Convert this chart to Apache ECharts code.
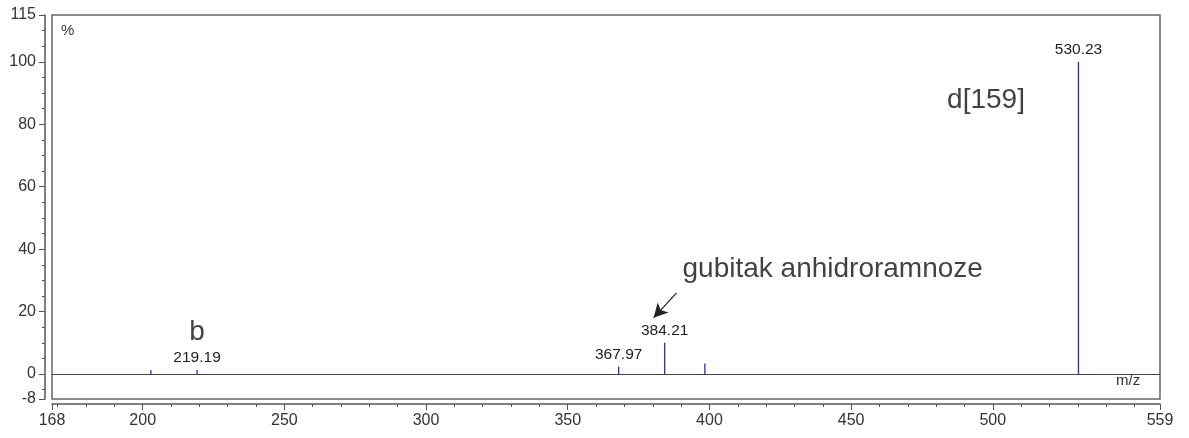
<!DOCTYPE html>
<html>
<head>
<meta charset="utf-8">
<script src="https://cdn.jsdelivr.net/npm/echarts@6/dist/echarts.min.js"></script>
<style>
html,body{margin:0;padding:0;background:#fff;}
#chart{width:1189px;height:438px;}
</style>
</head>
<body>
<div id="chart"></div>
<script>
// ---- data ----
const mz = [202.9, 219.19, 367.97, 384.21, 398.4, 530.23];
const intensity = [1.2, 1.3, 2.3, 10.0, 3.4, 100];
const peakLabels = ['', '219.19', '367.97', '384.21', '', '530.23'];

const xTickLabels = [168, 200, 250, 300, 350, 400, 450, 500, 559];
const xMinorTicks = [170,180,190,210,220,230,240,260,270,280,290,310,320,330,340,360,370,380,390,410,420,430,440,460,470,480,490,510,520,530,540,550];
const yTickLabels = [-8, 0, 20, 40, 60, 80, 100, 115];
const yMinorTicks = [-5,5,10,15,25,30,35,45,50,55,65,70,75,85,90,95,105,110];

const annTexts = ['b', 'd[159]', 'gubitak anhidroramnoze'];
const annX = [219.2, 497.6, 443.5];
const annY = [13.5, 87.7, 33.7];

const arrowFrom = [388.4, 26.0];
const arrowTo = [380.3, 18.0];

// ---- chart ----
const FONT = 'Liberation Sans, Arial, sans-serif';
const AX = '#555555';
const chart = echarts.init(document.getElementById('chart'), null, {renderer: 'canvas'});

const peakData = mz.map((x, i) => ({
  value: [x, intensity[i]],
  label: {
    show: peakLabels[i] !== '',
    formatter: peakLabels[i],
    position: 'top',
    distance: 4,
    fontSize: 15.5,
    fontFamily: FONT,
    color: '#222'
  }
}));

const annData = annTexts.map((t, i) => ({
  value: [annX[i], annY[i]],
  label: {formatter: t}
}));

const option = {
  animation: false,
  grid: {left: 52, right: 29, top: 15, bottom: 39, show: true, borderColor: '#666', borderWidth: 1.5, backgroundColor: '#fff'},
  xAxis: [
    {type: 'value', min: 168, max: 559, offset: 5,
     axisLine: {show: true, onZero: false, lineStyle: {color: AX, width: 1.5}},
     axisTick: {show: true, customValues: xTickLabels, length: 6, lineStyle: {color: AX}},
     axisLabel: {customValues: xTickLabels, fontSize: 16, fontFamily: FONT, color: '#333', margin: 9},
     splitLine: {show: false}},
    {type: 'value', min: 168, max: 559, offset: 5, position: 'bottom',
     axisLine: {show: false, onZero: false},
     axisTick: {show: true, customValues: xMinorTicks, length: 3, lineStyle: {color: AX}},
     axisLabel: {show: false},
     splitLine: {show: false}}
  ],
  yAxis: [
    {type: 'value', min: -8, max: 115, offset: 7,
     axisLine: {show: true, onZero: false, lineStyle: {color: AX, width: 1.5}},
     axisTick: {show: true, customValues: yTickLabels, length: 6, lineStyle: {color: AX}},
     axisLabel: {customValues: yTickLabels, fontSize: 16, fontFamily: FONT, color: '#333', margin: 9},
     splitLine: {show: false}},
    {type: 'value', min: -8, max: 115, offset: 7, position: 'left',
     axisLine: {show: false, onZero: false},
     axisTick: {show: true, customValues: yMinorTicks, length: 3, lineStyle: {color: AX}},
     axisLabel: {show: false},
     splitLine: {show: false}}
  ],
  series: [
    {
      type: 'bar', xAxisIndex: 0, yAxisIndex: 0,
      barWidth: 1.3,
      itemStyle: {color: '#2a2ab0'},
      data: peakData,
      markLine: {
        silent: true,
        symbol: ['none', 'none'],
        label: {show: false},
        data: [
          {yAxis: 0, lineStyle: {color: '#444', width: 1.2, type: 'solid'}},
          [{coord: arrowFrom, symbol: 'none'}, {coord: arrowTo, symbol: 'arrow', symbolSize: [11, 14]}]
        ],
        lineStyle: {color: '#222', width: 1.2, type: 'solid'}
      }
    },
    {
      type: 'scatter', xAxisIndex: 0, yAxisIndex: 0,
      symbolSize: 0, silent: true,
      label: {show: true, position: 'inside', fontSize: 28, fontFamily: FONT, color: '#111'},
      data: annData
    }
  ],
  graphic: [
    {type: 'text', left: 61, top: 23, style: {text: '%', fontSize: 15, fontFamily: FONT, fill: '#333'}},
    {type: 'text', left: 1116, top: 373, style: {text: 'm/z', fontSize: 15, fontFamily: FONT, fill: '#333'}}
  ]
};
chart.setOption(option);
</script>
</body>
</html>
